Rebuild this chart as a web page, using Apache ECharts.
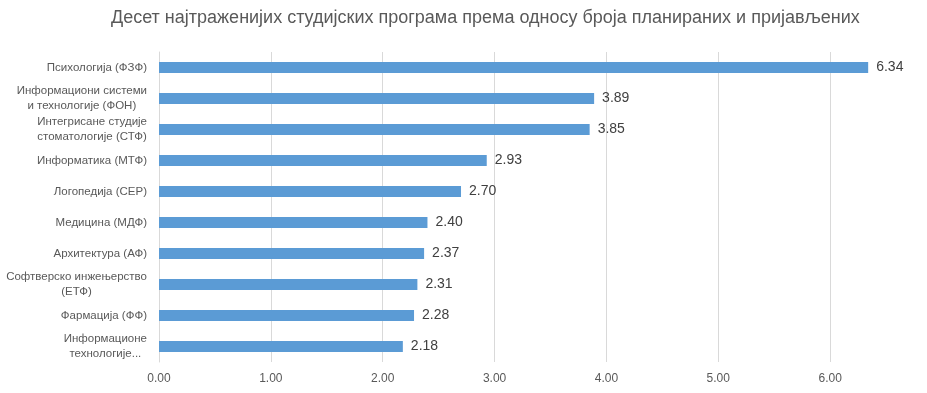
<!DOCTYPE html>
<html>
<head>
<meta charset="utf-8">
<script src="https://cdn.jsdelivr.net/npm/echarts@6/dist/echarts.min.js"></script>
<style>html,body{margin:0;padding:0;background:#fff}#c{width:927px;height:393px}</style>
</head>
<body>
<div id="c"></div>
<script>
const titleText = 'Десет најтраженијих студијских програма према односу броја планираних и пријављених';
const categories = [
  'Психологија (ФЗФ)',
  'Информациони системи\nи технологије (ФОН)',
  'Интегрисане студије\nстоматологије (СТФ)',
  'Информатика (МТФ)',
  'Логопедија (СЕР)',
  'Медицина (МДФ)',
  'Архитектура (АФ)',
  'Софтверско инжењерство\n(ЕТФ)',
  'Фармација (ФФ)',
  'Информационе\nтехнологије...'
];
const values = [6.34, 3.89, 3.85, 2.93, 2.70, 2.40, 2.37, 2.31, 2.28, 2.18];

const FONT = 'Liberation Sans';
const chart = echarts.init(document.getElementById('c'), null, {renderer: 'canvas'});
chart.setOption({
  animation: false,
  backgroundColor: '#ffffff',
  title: {
    text: titleText,
    left: 106,
    top: 4,
    textStyle: {fontFamily: FONT, fontSize: 18, fontWeight: 'normal', color: '#595959'}
  },
  grid: {left: 159, right: -15, top: 52, bottom: 31, containLabel: false, outerBoundsMode: 'none'},
  xAxis: {
    type: 'value',
    min: 0,
    max: 7,
    interval: 1,
    axisLine: {show: false},
    axisTick: {show: false},
    splitLine: {lineStyle: {color: '#d9d9d9', width: 1}},
    axisLabel: {
      formatter: v => v.toFixed(2),
      fontFamily: FONT, fontSize: 12, color: '#595959', margin: 11
    }
  },
  yAxis: {
    type: 'category',
    data: categories,
    inverse: true,
    axisLine: {show: true, lineStyle: {color: '#d9d9d9', width: 1}},
    axisTick: {show: false},
    axisLabel: {
      fontFamily: FONT, fontSize: 11.5, color: '#595959', margin: 12,
      lineHeight: 15,
      formatter: s => s.split('\n').map(l => '{c|' + l + '}').join('\n'),
      rich: {c: {align: 'center', fontFamily: FONT, fontSize: 11.5, color: '#595959', lineHeight: 15}}
    }
  },
  series: [{
    type: 'bar',
    data: values,
    barWidth: 11,
    itemStyle: {color: '#5b9bd5'},
    label: {
      show: true,
      position: 'right',
      distance: 8,
      formatter: p => p.value.toFixed(2),
      fontFamily: FONT, fontSize: 14, color: '#404040'
    }
  }]
});
</script>
</body>
</html>
